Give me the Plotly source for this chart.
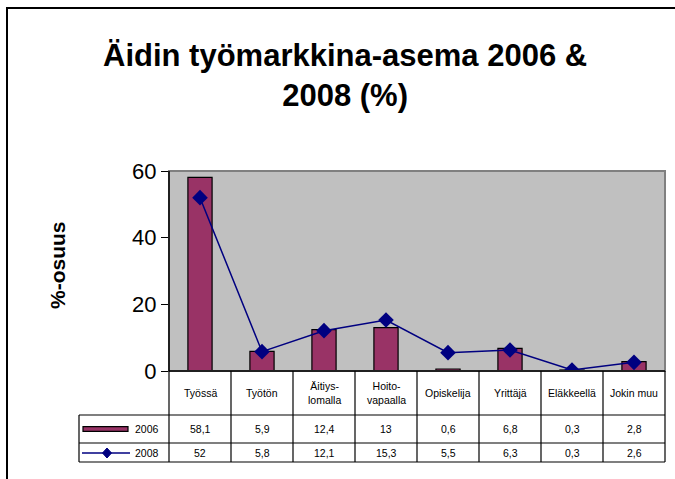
import plotly.graph_objects as go

categories = ["Työssä", "Työtön", "Äitiys-<br>lomalla", "Hoito-<br>vapaalla", "Opiskelija",
              "Yrittäjä", "Eläkkeellä", "Jokin muu"]
values_2006 = [58.1, 5.9, 12.4, 13, 0.6, 6.8, 0.3, 2.8]
values_2008 = [52, 5.8, 12.1, 15.3, 5.5, 6.3, 0.3, 2.6]
series_names = ["2006", "2008"]
y_ticks = [0, 20, 40, 60]

BAR = "#993366"
LINE = "#000080"
FONT = "Arial, Liberation Sans, sans-serif"

idx = list(range(len(categories)))

fig = go.Figure()
fig.add_trace(go.Bar(x=idx, y=values_2006, name=series_names[0], width=0.39,
                     marker=dict(color=BAR, line=dict(color="black", width=1.2))))
fig.add_trace(go.Scatter(x=idx, y=values_2008, name=series_names[1], mode="lines+markers",
                         line=dict(color=LINE, width=1.5),
                         marker=dict(symbol="diamond", size=12, color=LINE)))

# pixel helpers (plot domain: x 169..665, y 171..371)
def px(xp):
    return (xp - 169) / 496.0

def py(yp):
    return (371 - yp) / 200.0

shapes = []
ann = []
# outer border
shapes.append(dict(type="rect", xref="paper", yref="paper", x0=px(7), x1=px(690),
                   y0=py(500), y1=py(8), line=dict(color="black", width=2)))
# plot area border (grey top/right)
shapes.append(dict(type="rect", xref="paper", yref="paper", x0=0, x1=1, y0=0, y1=1,
                   line=dict(color="#808080", width=2), layer="above"))
shapes.append(dict(type="line", xref="paper", yref="paper", x0=0, x1=0, y0=0, y1=1,
                   line=dict(color="black", width=1.5)))

# table grid
top, h1, h2, bot = py(371), py(415), py(443), py(462)
left = px(79)
shapes.append(dict(type="line", xref="paper", yref="paper", x0=0, x1=1, y0=top, y1=top,
                   line=dict(color="black", width=1.5)))
for yv in (h1, h2, bot):
    shapes.append(dict(type="line", xref="paper", yref="paper", x0=left, x1=1, y0=yv, y1=yv,
                       line=dict(color="black", width=1.2)))
for i in range(len(categories) + 1):
    xv = i / len(categories)
    shapes.append(dict(type="line", xref="paper", yref="paper", x0=xv, x1=xv, y0=bot, y1=top,
                       line=dict(color="black", width=1.2)))
shapes.append(dict(type="line", xref="paper", yref="paper", x0=left, x1=left, y0=bot, y1=h1,
                   line=dict(color="black", width=1.2)))

# legend keys inside table
r1 = py(429)
r2 = py(453)
shapes.append(dict(type="rect", xref="paper", yref="paper", x0=px(83), x1=px(128),
                   y0=r1 - 0.012, y1=r1 + 0.012, fillcolor=BAR, line=dict(color="black", width=1.2)))
shapes.append(dict(type="line", xref="paper", yref="paper", x0=px(82), x1=px(130),
                   y0=r2, y1=r2, line=dict(color=LINE, width=1.5)))
cx, dx, dy = px(107), 4.5 / 496, 5 / 200
shapes.append(dict(type="path", xref="paper", yref="paper",
                   path=f"M {cx-dx} {r2} L {cx} {r2+dy} L {cx+dx} {r2} L {cx} {r2-dy} Z",
                   fillcolor=LINE, line=dict(color=LINE, width=1)))
ann.append(dict(x=px(133), y=r1, xref="paper", yref="paper", text=series_names[0],
                showarrow=False, xanchor="left", yanchor="middle",
                font=dict(size=10.5, color="black", family=FONT)))
ann.append(dict(x=px(133), y=r2, xref="paper", yref="paper", text=series_names[1],
                showarrow=False, xanchor="left", yanchor="middle",
                font=dict(size=10.5, color="black", family=FONT)))

def fmt(v):
    return ("%g" % v).replace(".", ",")

for i, c in enumerate(categories):
    xc = (i + 0.5) / len(categories)
    ann.append(dict(x=xc, y=(top + h1) / 2, xref="paper", yref="paper", text=c, showarrow=False,
                    xanchor="center", yanchor="middle",
                    font=dict(size=10.5, color="black", family=FONT)))
    ann.append(dict(x=xc, y=r1, xref="paper", yref="paper", text=fmt(values_2006[i]), showarrow=False,
                    xanchor="center", yanchor="middle",
                    font=dict(size=10.5, color="black", family=FONT)))
    ann.append(dict(x=xc, y=r2, xref="paper", yref="paper", text=fmt(values_2008[i]), showarrow=False,
                    xanchor="center", yanchor="middle",
                    font=dict(size=10.5, color="black", family=FONT)))

# title
ann.append(dict(x=px(345), y=py(76), xref="paper", yref="paper",
                text="<b>Äidin työmarkkina-asema 2006 &<br>2008 (%)</b>", showarrow=False,
                xanchor="center", yanchor="middle",
                font=dict(size=31, color="black", family=FONT), align="center"))
# y-axis title
ann.append(dict(x=px(57), y=py(265), xref="paper", yref="paper", text="<b>%-osuus</b>",
                showarrow=False, textangle=-90, xanchor="center", yanchor="middle",
                font=dict(size=21, color="black", family=FONT)))

fig.update_layout(
    width=675, height=479,
    margin=dict(l=169, r=10, t=171, b=108, autoexpand=False),
    paper_bgcolor="white", plot_bgcolor="#C0C0C0",
    showlegend=False,
    font=dict(family=FONT, color="black"),
    shapes=shapes, annotations=ann,
    xaxis=dict(range=[-0.5, 7.5], showticklabels=False, ticks="", showgrid=False, zeroline=False,
               showline=False, fixedrange=True, automargin=False),
    yaxis=dict(range=[0, 60], tickvals=y_ticks, ticks="outside", ticklen=7, tickwidth=1.2,
               tickcolor="black", showgrid=False, zeroline=False, showline=False, automargin=False,
               tickfont=dict(size=22, family=FONT, color="black")),
)

fig.write_html("out.html", config={"displayModeBar": False},
               post_script="document.body.style.margin='0px';")
